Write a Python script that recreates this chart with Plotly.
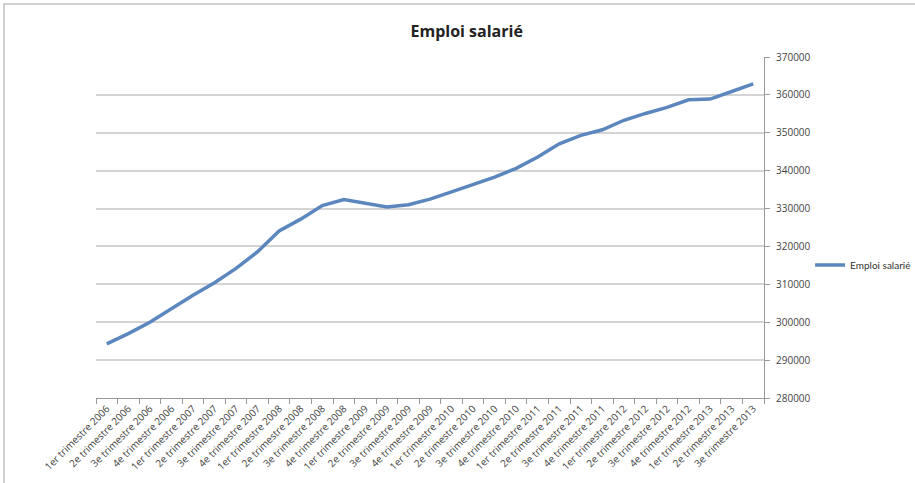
import plotly.graph_objects as go

quarters = ["1er trimestre", "2e trimestre", "3e trimestre", "4e trimestre"]
years = [2006, 2007, 2008, 2009, 2010, 2011, 2012, 2013]
categories = [f"{q} {y}" for y in years for q in quarters][:31]

emploi = [294300, 297000, 300000, 303600, 307100, 310400, 314200, 318600,
          324100, 327200, 330800, 332400, 331300, 330400, 331000, 332500,
          334400, 336400, 338300, 340600, 343600, 347100, 349300, 350800,
          353300, 355100, 356700, 358700, 358900, 360900, 362900]

y_ticks = [280000, 290000, 300000, 310000, 320000, 330000, 340000, 350000, 360000, 370000]

fig = go.Figure()
fig.add_trace(go.Scatter(
    x=categories, y=emploi, mode="lines", name="Emploi salarié",
    line=dict(color="#5B87BE", width=3.5),
))

font_family = "Open Sans, Liberation Sans, sans-serif"

fig.update_layout(
    width=915, height=483,
    margin=dict(l=96, r=151, t=57, b=85, autoexpand=False),
    paper_bgcolor="white", plot_bgcolor="white",
    title=dict(text="<b>Emploi salarié</b>", x=0.51, xanchor="center",
               y=1 - 31 / 483, yanchor="middle",
               font=dict(family=font_family, size=16, color="#222")),
    font=dict(family=font_family, color="#444"),
    showlegend=True,
    legend=dict(x=1.069, y=0.39, xanchor="left", yanchor="middle",
                font=dict(family="Lato, sans-serif", size=10, color="#333"),
                bgcolor="rgba(0,0,0,0)", itemwidth=30),
    xaxis=dict(
        type="category", range=[-0.5, 30.5], tickson="boundaries",
        ticks="outside", ticklen=5, tickcolor="#999", tickangle=-45,
        showline=True, linecolor="#999", linewidth=1,
        showgrid=False, tickfont=dict(size=10, color="#444"),
    ),
    yaxis=dict(
        side="right", range=[280000, 370000], tickvals=y_ticks,
        ticktext=[str(v) for v in y_ticks],
        ticks="outside", ticklen=5, tickcolor="#999",
        showline=True, linecolor="#999", linewidth=1,
        showgrid=True, gridcolor="#D4D4D4", gridwidth=1.5,
        zeroline=False, tickfont=dict(size=10, color="#444"),
        ticklabelstandoff=4,
    ),
    shapes=[dict(type="rect", xref="paper", yref="paper",
                 x0=-0.1377, x1=1.5, y0=-0.5, y1=1.1554,
                 line=dict(color="#D0D0D0", width=2), layer="below")],
)

fig.write_html("out.html")
